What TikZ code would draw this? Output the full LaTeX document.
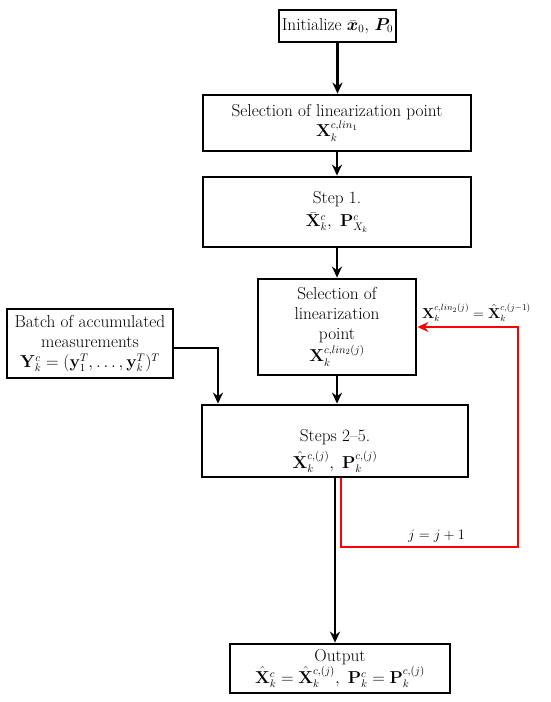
\documentclass[tikz,border=0pt]{standalone}
\usepackage{amsmath,bm}
\usetikzlibrary{arrows.meta,calc}
\DeclareMathSizes{17.28}{17.28}{10.95}{8}
\DeclareMathSizes{14.4}{14.4}{9}{7}
\newcommand{\bxfont}{\fontsize{17.28}{20}\selectfont\lineskiplimit=-30pt\relax}
\begin{document}
\begin{tikzpicture}[x=1pt,y=-1pt,
  box/.style={draw,line width=2.8pt,align=center,inner sep=1pt,font=\bxfont},
  arr/.style={line width=2.2pt,-{Stealth[length=11pt,width=10pt]}},
  redarr/.style={red,line width=2.6pt,-{Stealth[length=11pt,width=10pt]}},
  lbl/.style={inner sep=0pt,font=\fontsize{14.4}{18}\selectfont}]
\useasboundingbox (0,0) rectangle (550,702);
\node[box,minimum width=117pt,minimum height=32pt] (init) at (337.5,26) {Initialize $\bar{\bm x}_0,\,\bm P_0$};
\node[box,minimum width=268pt,minimum height=56pt] (sel1) at (337,123) {Selection of linearization point\\[0pt] $\mathbf X_k^{c,lin_1}$};
\node[box,minimum width=268pt,minimum height=70pt] (step1) at (337,212) {Step 1.\\[3pt] $\bar{\mathbf X}_k^c,\ \mathbf P_{X_k}^c$};
\node[box,minimum width=158pt,minimum height=96pt] (sel2) at (337,327) {Selection of\\linearization\\point\\[2pt] $\mathbf X_k^{c,lin_2(j)}$};
\node[box,minimum width=166pt,minimum height=69pt] (batch) at (90,343.5) {Batch of accumulated\\measurements\\ $\mathbf Y_k^c=(\mathbf y_1^T,\ldots,\mathbf y_k^T)^T$};
\node[box,minimum width=266pt,minimum height=72pt] (steps) at (335,441) {\rule{0pt}{32pt}Steps 2--5.\\[7pt] $\hat{\mathbf X}_k^{c,(j)},\ \mathbf P_k^{c,(j)}$};
\node[box,minimum width=220pt,minimum height=49pt] (out) at (340,668.5) {Output\\[2pt] $\hat{\mathbf X}_k^c=\hat{\mathbf X}_k^{c,(j)},\ \mathbf P_k^c=\mathbf P_k^{c,(j)}$};
\draw[arr] (init.south) -- (init.south|-sel1.north);
\draw[arr] (sel1.south) -- (step1.north);
\draw[arr] (step1.south) -- (sel2.north);
\draw[arr] (sel2.south) -- (sel2.south|-steps.north);
\coordinate (bj) at (218,348);
\draw[arr] (batch.east|-bj) -- (bj) -- (bj|-steps.north);
\draw[arr] (steps.south) -- (steps.south|-out.north);
\coordinate (r1) at (341,547);
\coordinate (r2) at (518,547);
\coordinate (r3) at (518,327);
\draw[redarr] (r1|-steps.south) -- (r1) -- (r2) -- (r3) -- (sel2.east|-r3);
\node[lbl,anchor=base west] (lab) at (422,318) {$\mathbf X_k^{c,lin_2(j)}=\hat{\mathbf X}_k^{c,(j-1)}$};
\node[lbl,anchor=base west] (jl) at (408,539) {$j=j+1$};
\end{tikzpicture}
\end{document}
